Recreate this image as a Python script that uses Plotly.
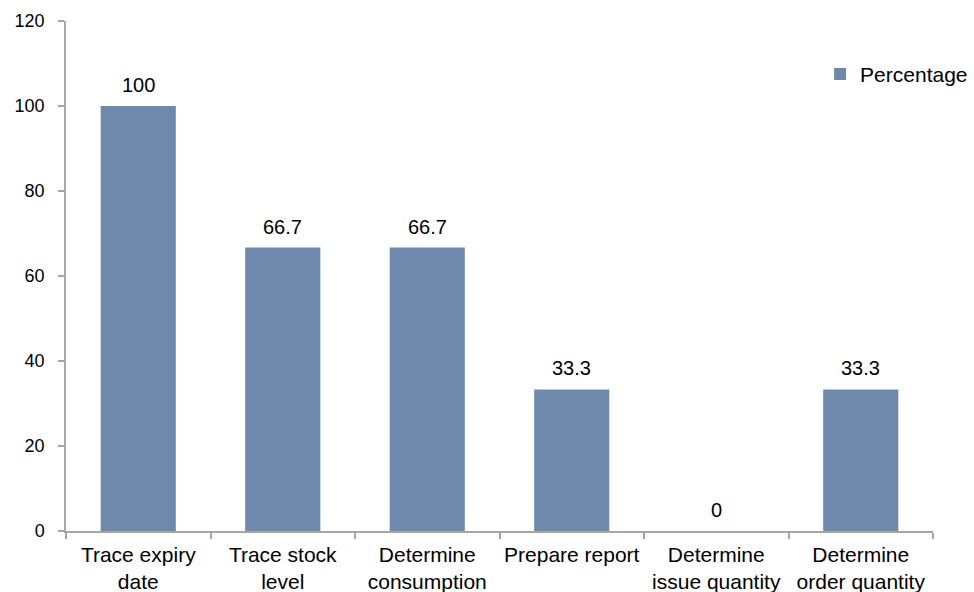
import plotly.graph_objects as go

categories = ["Trace expiry<br>date", "Trace stock<br>level", "Determine<br>consumption",
              "Prepare report", "Determine<br>issue quantity", "Determine<br>order quantity"]
values = [100, 66.7, 66.7, 33.3, 0, 33.3]
value_labels = ["100", "66.7", "66.7", "33.3", "0", "33.3"]
series_name = "Percentage"
y_ticks = [0, 20, 40, 60, 80, 100, 120]

FONT = "Liberation Sans, Arial, sans-serif"
BAR = "#6F89AD"
AXIS = "#A6A6A6"

fig = go.Figure()
fig.add_trace(go.Bar(
    x=categories, y=values, name=series_name,
    marker=dict(color=BAR, line=dict(width=0)),
    width=0.52, showlegend=True, hoverinfo="skip",
))

for c, v, lab in zip(categories, values, value_labels):
    fig.add_annotation(x=c, y=v, text=lab, showarrow=False, yanchor="bottom",
                       yshift=8, font=dict(family=FONT, size=20, color="#000000"))

fig.update_layout(
    width=974, height=592,
    margin=dict(l=66, r=41, t=21, b=61, autoexpand=False),
    paper_bgcolor="white", plot_bgcolor="white",
    font=dict(family=FONT, size=21, color="#000000"),
    showlegend=True,
    legend=dict(x=0.842, y=0.909, xref="container", yref="container",
                xanchor="left", yanchor="top",
                font=dict(family=FONT, size=21, color="#000000"),
                bgcolor="rgba(0,0,0,0)", itemwidth=30),
    xaxis=dict(showline=True, linecolor=AXIS, linewidth=1.5,
               ticks="outside", tickson="boundaries", ticklen=6, tickcolor=AXIS,
               tickwidth=1.5, showgrid=False, zeroline=False, ticklabelstandoff=4,
               tickangle=0, automargin=False,
               tickfont=dict(family=FONT, size=21, color="#000000")),
    yaxis=dict(range=[0, 120], tickvals=y_ticks, showline=True, linecolor=AXIS,
               linewidth=1.5, ticks="outside", ticklen=6, tickcolor=AXIS, tickwidth=1.5,
               showgrid=False, zeroline=False, ticklabelstandoff=10, automargin=False,
               tickfont=dict(family=FONT, size=18, color="#000000")),
)

fig.write_html("out.html")
